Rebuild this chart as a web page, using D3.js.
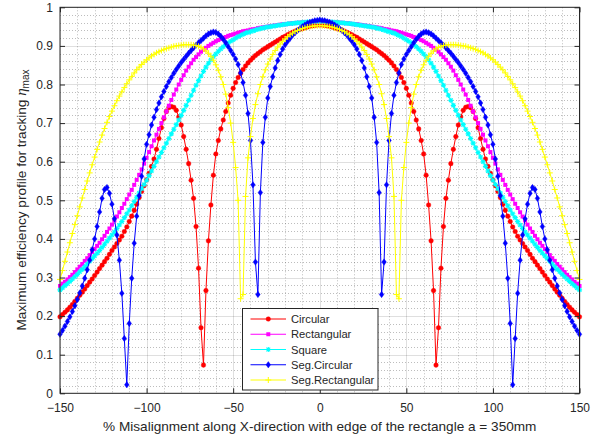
<!DOCTYPE html>
<html>
<head>
<meta charset="utf-8">
<script src="https://cdn.jsdelivr.net/npm/d3@7"></script>
<style>
	body { margin: 0; background: #fff; }
	text { font-family: 'Liberation Sans', Arial, Helvetica, sans-serif; }
</style>
</head>
<body>
<div id="chart"></div>
<script>
// misalignment sampled every 5 mm, shown in % of a = 350 mm
var xValues = d3.range(-525, 526, 5).map((mm) => mm / 3.5);

var seriesNames = [ 'Circular', 'Rectangular', 'Square', 'Seg.Circular', 'Seg.Rectangular' ];
var xTicks = [ -150, -100, -50, 0, 50, 100, 150 ];
var yTicks = [ 0, 0.1, 0.2, 0.3, 0.4, 0.5, 0.6, 0.7, 0.8, 0.9, 1 ];

var circular = [
	0.198,0.204,0.210,0.216,0.223,0.230,0.238,0.246,0.254,0.262,
	0.270,0.279,0.288,0.296,0.305,0.314,0.323,0.332,0.341,0.350,
	0.360,0.370,0.379,0.388,0.397,0.407,0.419,0.431,0.445,0.459,
	0.474,0.490,0.507,0.523,0.538,0.553,0.570,0.588,0.607,0.632,
	0.660,0.688,0.712,0.730,0.740,0.743,0.741,0.733,0.716,0.695,
	0.665,0.632,0.595,0.552,0.505,0.432,0.324,0.170,0.073,0.266,
	0.395,0.488,0.565,0.620,0.655,0.685,0.708,0.730,0.752,0.772,
	0.790,0.805,0.818,0.829,0.839,0.848,0.856,0.863,0.869,0.875,
	0.880,0.885,0.890,0.894,0.898,0.902,0.906,0.910,0.914,0.918,
	0.922,0.925,0.929,0.932,0.935,0.938,0.941,0.943,0.945,0.947,
	0.949,0.951,0.952,0.953,0.954,0.954,
	0.954,0.953,0.952,0.951,0.949,
	0.947,0.945,0.943,0.941,0.938,0.935,0.932,0.929,0.925,0.922,
	0.918,0.914,0.910,0.906,0.902,0.898,0.894,0.890,0.885,0.880,
	0.875,0.869,0.863,0.856,0.848,0.839,0.829,0.818,0.805,0.790,
	0.772,0.752,0.730,0.708,0.685,0.655,0.620,0.565,0.488,0.395,
	0.266,0.073,0.170,0.324,0.432,0.505,0.552,0.595,0.632,0.665,
	0.695,0.716,0.733,0.741,0.743,0.740,0.730,0.712,0.688,0.660,
	0.632,0.607,0.588,0.570,0.553,0.538,0.523,0.507,0.490,0.474,
	0.459,0.445,0.431,0.419,0.407,0.397,0.388,0.379,0.370,0.360,
	0.350,0.341,0.332,0.323,0.314,0.305,0.296,0.288,0.279,0.270,
	0.262,0.254,0.246,0.238,0.230,0.223,0.216,0.210,0.204,0.198
];

var rectangular = [
	0.278,0.284,0.289,0.295,0.301,0.307,0.314,0.321,0.328,0.335,
	0.343,0.350,0.358,0.366,0.374,0.382,0.390,0.399,0.408,0.418,
	0.427,0.437,0.448,0.458,0.469,0.480,0.491,0.503,0.515,0.527,
	0.540,0.553,0.566,0.580,0.595,0.610,0.625,0.640,0.655,0.670,
	0.685,0.700,0.715,0.730,0.745,0.760,0.774,0.787,0.800,0.812,
	0.824,0.836,0.846,0.855,0.864,0.871,0.878,0.885,0.890,0.895,
	0.900,0.904,0.908,0.912,0.915,0.918,0.921,0.923,0.926,0.928,
	0.930,0.932,0.934,0.936,0.938,0.939,0.940,0.942,0.943,0.944,
	0.946,0.947,0.948,0.949,0.950,0.951,0.952,0.953,0.954,0.955,
	0.956,0.956,0.957,0.958,0.959,0.959,0.960,0.960,0.961,0.962,
	0.962,0.962,0.963,0.963,0.963,0.963,
	0.963,0.963,0.963,0.962,0.962,
	0.962,0.961,0.960,0.960,0.959,0.959,0.958,0.957,0.956,0.956,
	0.955,0.954,0.953,0.952,0.951,0.950,0.949,0.948,0.947,0.946,
	0.944,0.943,0.942,0.940,0.939,0.938,0.936,0.934,0.932,0.930,
	0.928,0.926,0.923,0.921,0.918,0.915,0.912,0.908,0.904,0.900,
	0.895,0.890,0.885,0.878,0.871,0.864,0.855,0.846,0.836,0.824,
	0.812,0.800,0.787,0.774,0.760,0.745,0.730,0.715,0.700,0.685,
	0.670,0.655,0.640,0.625,0.610,0.595,0.580,0.566,0.553,0.540,
	0.527,0.515,0.503,0.491,0.480,0.469,0.458,0.448,0.437,0.427,
	0.418,0.408,0.399,0.390,0.382,0.374,0.366,0.358,0.350,0.343,
	0.335,0.328,0.321,0.314,0.307,0.301,0.295,0.289,0.284,0.278
];

var square = [
	0.268,0.273,0.279,0.284,0.290,0.296,0.302,0.308,0.315,0.321,
	0.328,0.335,0.342,0.349,0.356,0.363,0.370,0.378,0.386,0.394,
	0.402,0.410,0.418,0.427,0.436,0.445,0.455,0.465,0.475,0.486,
	0.497,0.508,0.519,0.530,0.541,0.552,0.564,0.576,0.588,0.600,
	0.612,0.624,0.636,0.648,0.660,0.672,0.684,0.696,0.708,0.720,
	0.733,0.746,0.759,0.772,0.785,0.798,0.810,0.822,0.834,0.845,
	0.855,0.864,0.872,0.879,0.886,0.892,0.898,0.903,0.908,0.912,
	0.916,0.920,0.924,0.927,0.930,0.933,0.935,0.937,0.939,0.941,
	0.943,0.945,0.946,0.948,0.949,0.950,0.951,0.952,0.953,0.954,
	0.955,0.956,0.957,0.958,0.958,0.959,0.960,0.960,0.961,0.961,
	0.962,0.962,0.962,0.963,0.963,0.963,
	0.963,0.963,0.962,0.962,0.962,
	0.961,0.961,0.960,0.960,0.959,0.958,0.958,0.957,0.956,0.955,
	0.954,0.953,0.952,0.951,0.950,0.949,0.948,0.946,0.945,0.943,
	0.941,0.939,0.937,0.935,0.933,0.930,0.927,0.924,0.920,0.916,
	0.912,0.908,0.903,0.898,0.892,0.886,0.879,0.872,0.864,0.855,
	0.845,0.834,0.822,0.810,0.798,0.785,0.772,0.759,0.746,0.733,
	0.720,0.708,0.696,0.684,0.672,0.660,0.648,0.636,0.624,0.612,
	0.600,0.588,0.576,0.564,0.552,0.541,0.530,0.519,0.508,0.497,
	0.486,0.475,0.465,0.455,0.445,0.436,0.427,0.418,0.410,0.402,
	0.394,0.386,0.378,0.370,0.363,0.356,0.349,0.342,0.335,0.328,
	0.321,0.315,0.308,0.302,0.296,0.290,0.284,0.279,0.273,0.268
];

var segCircular = [
	0.153,0.163,0.174,0.186,0.198,0.212,0.227,0.243,0.260,0.278,
	0.298,0.320,0.345,0.372,0.400,0.432,0.470,0.505,0.528,0.533,
	0.518,0.490,0.452,0.410,0.345,0.259,0.142,0.022,0.181,0.298,
	0.389,0.459,0.512,0.562,0.607,0.645,0.670,0.695,0.715,0.735,
	0.752,0.768,0.782,0.795,0.807,0.818,0.829,0.839,0.848,0.857,
	0.865,0.873,0.881,0.888,0.895,0.902,0.908,0.914,0.920,0.926,
	0.931,0.934,0.936,0.935,0.931,0.925,0.917,0.908,0.898,0.888,
	0.878,0.866,0.852,0.830,0.805,0.772,0.725,0.655,0.540,0.340,
	0.256,0.520,0.650,0.715,0.765,0.795,0.820,0.843,0.862,0.878,
	0.892,0.903,0.912,0.920,0.928,0.934,0.940,0.945,0.950,0.954,
	0.958,0.961,0.963,0.965,0.966,0.967,
	0.966,0.965,0.963,0.961,0.958,
	0.954,0.950,0.945,0.940,0.934,0.928,0.920,0.912,0.903,0.892,
	0.878,0.862,0.843,0.820,0.795,0.765,0.715,0.650,0.520,0.256,
	0.340,0.540,0.655,0.725,0.772,0.805,0.830,0.852,0.866,0.878,
	0.888,0.898,0.908,0.917,0.925,0.931,0.935,0.936,0.934,0.931,
	0.926,0.920,0.914,0.908,0.902,0.895,0.888,0.881,0.873,0.865,
	0.857,0.848,0.839,0.829,0.818,0.807,0.795,0.782,0.768,0.752,
	0.735,0.715,0.695,0.670,0.645,0.607,0.562,0.512,0.459,0.389,
	0.298,0.181,0.022,0.142,0.259,0.345,0.410,0.452,0.490,0.518,
	0.533,0.528,0.505,0.470,0.432,0.400,0.372,0.345,0.320,0.298,
	0.278,0.260,0.243,0.227,0.212,0.198,0.186,0.174,0.163,0.153
];

var segRectangular = [
	0.295,0.318,0.342,0.366,0.390,0.414,0.437,0.460,0.483,0.506,
	0.528,0.550,0.571,0.592,0.612,0.632,0.651,0.669,0.686,0.702,
	0.717,0.731,0.745,0.758,0.770,0.781,0.792,0.802,0.812,0.821,
	0.830,0.838,0.845,0.852,0.858,0.864,0.869,0.874,0.878,0.882,
	0.885,0.888,0.891,0.893,0.895,0.897,0.899,0.900,0.901,0.902,
	0.903,0.903,0.903,0.903,0.902,0.901,0.899,0.896,0.892,0.887,
	0.881,0.873,0.863,0.851,0.837,0.820,0.800,0.775,0.740,0.700,
	0.650,0.585,0.500,0.245,0.256,0.510,0.610,0.665,0.712,0.748,
	0.776,0.800,0.820,0.838,0.853,0.866,0.878,0.888,0.897,0.905,
	0.912,0.918,0.924,0.929,0.933,0.937,0.940,0.943,0.945,0.947,
	0.949,0.950,0.951,0.952,0.952,0.953,
	0.952,0.952,0.951,0.950,0.949,
	0.947,0.945,0.943,0.940,0.937,0.933,0.929,0.924,0.918,0.912,
	0.905,0.897,0.888,0.878,0.866,0.853,0.838,0.820,0.800,0.776,
	0.748,0.712,0.665,0.610,0.510,0.256,0.245,0.500,0.585,0.650,
	0.700,0.740,0.775,0.800,0.820,0.837,0.851,0.863,0.873,0.881,
	0.887,0.892,0.896,0.899,0.901,0.902,0.903,0.903,0.903,0.903,
	0.902,0.901,0.900,0.899,0.897,0.895,0.893,0.891,0.888,0.885,
	0.882,0.878,0.874,0.869,0.864,0.858,0.852,0.845,0.838,0.830,
	0.821,0.812,0.802,0.792,0.781,0.770,0.758,0.745,0.731,0.717,
	0.702,0.686,0.669,0.651,0.632,0.612,0.592,0.571,0.550,0.528,
	0.506,0.483,0.460,0.437,0.414,0.390,0.366,0.342,0.318,0.295
];

var seriesValues = [ circular, rectangular, square, segCircular, segRectangular ];
var seriesColors = [ '#ff0000', '#ff00ff', '#00ffff', '#0000ff', '#ffff00' ];

// marker shapes, drawn around (0,0)
var markers = [
	(g, c) => g.append('circle').attr('r', 2.3).attr('fill', c).attr('stroke', c).attr('stroke-width', 0.4),
	(g, c) => g.append('rect').attr('x', -2).attr('y', -2).attr('width', 4).attr('height', 4).attr('fill', c),
	(g, c) => g.append('path').attr('d', 'M-2.6,0H2.6M0,-2.6V2.6M-1.9,-1.9L1.9,1.9M-1.9,1.9L1.9,-1.9').attr('stroke', c).attr('stroke-width', 1.1).attr('fill', 'none'),
	(g, c) => g.append('path').attr('d', 'M0,-3.2L2.3,0L0,3.2L-2.3,0Z').attr('fill', c).attr('stroke', c).attr('stroke-width', 0.4),
	(g, c) => g.append('path').attr('d', 'M-3,0H3M0,-3V3').attr('stroke', c).attr('stroke-width', 1).attr('fill', 'none')
];

var width = 601;
var height = 437;
var plot = { left: 60, right: 579.5, top: 7.3, bottom: 393.3 };
var axisColor = '#262626';

var svg = d3.select('#chart').append('svg').attr('width', width).attr('height', height);

var x = d3.scaleLinear().domain([ -150, 150 ]).range([ plot.left, plot.right ]);
var y = d3.scaleLinear().domain([ 0, 1 ]).range([ plot.bottom, plot.top ]);

// minor grid (dotted)
var xMinor = d3.range(-150, 151, 10).filter((d) => d % 50 !== 0);
var yMinor = d3.range(0, 51).filter((i) => i % 5 !== 0).map((i) => i / 50);
var grid = svg.append('g');
grid.selectAll('line.xminor').data(xMinor).enter().append('line')
	.attr('x1', (d) => Math.round(x(d)) + 0.5).attr('x2', (d) => Math.round(x(d)) + 0.5)
	.attr('y1', plot.top).attr('y2', plot.bottom)
	.attr('stroke', axisColor).attr('stroke-opacity', 0.3).attr('stroke-dasharray', '1,2');
grid.selectAll('line.yminor').data(yMinor).enter().append('line')
	.attr('y1', (d) => Math.round(y(d)) + 0.5).attr('y2', (d) => Math.round(y(d)) + 0.5)
	.attr('x1', plot.left).attr('x2', plot.right)
	.attr('stroke', axisColor).attr('stroke-opacity', 0.3).attr('stroke-dasharray', '1,2');

// major grid
grid.selectAll('line.xmajor').data(xTicks).enter().append('line')
	.attr('x1', (d) => Math.round(x(d)) + 0.5).attr('x2', (d) => Math.round(x(d)) + 0.5)
	.attr('y1', plot.top).attr('y2', plot.bottom)
	.attr('stroke', axisColor).attr('stroke-opacity', 0.15);
grid.selectAll('line.ymajor').data(yTicks).enter().append('line')
	.attr('y1', (d) => Math.round(y(d)) + 0.5).attr('y2', (d) => Math.round(y(d)) + 0.5)
	.attr('x1', plot.left).attr('x2', plot.right)
	.attr('stroke', axisColor).attr('stroke-opacity', 0.15);

// series
var line = d3.line().x((d, i) => x(xValues[i])).y((d) => y(d));

seriesValues.forEach((vals, s) => {
	var g = svg.append('g');
	g.append('path').datum(vals)
		.attr('d', line)
		.attr('fill', 'none')
		.attr('stroke', seriesColors[s])
		.attr('stroke-width', 1);
	g.selectAll('g.m').data(vals).enter().append('g')
		.attr('transform', (d, i) => `translate(${x(xValues[i])},${y(d)})`)
		.each(function() { markers[s](d3.select(this), seriesColors[s]); });
});

// axes
var fmt = (d) => d3.format('')(d);
svg.append('g')
	.attr('transform', `translate(0,${plot.bottom})`)
	.call(d3.axisBottom(x).tickValues(xTicks).tickSize(-5).tickPadding(10).tickFormat(fmt))
	.call((g) => g.select('.domain').remove());
svg.append('g')
	.attr('transform', `translate(0,${plot.top})`)
	.call(d3.axisTop(x).tickValues(xTicks).tickSize(-5).tickFormat(''))
	.call((g) => g.select('.domain').remove());
svg.append('g')
	.attr('transform', `translate(${plot.left},0)`)
	.call(d3.axisLeft(y).tickValues(yTicks).tickSize(-5).tickPadding(7).tickFormat(fmt))
	.call((g) => g.select('.domain').remove());
svg.append('g')
	.attr('transform', `translate(${plot.right},0)`)
	.call(d3.axisRight(y).tickValues(yTicks).tickSize(-5).tickFormat(''))
	.call((g) => g.select('.domain').remove());

svg.selectAll('.tick line').attr('stroke', axisColor);
svg.selectAll('.tick text').attr('fill', axisColor).style('font-size', '12px');

svg.append('rect')
	.attr('x', plot.left).attr('y', plot.top)
	.attr('width', plot.right - plot.left).attr('height', plot.bottom - plot.top)
	.attr('fill', 'none').attr('stroke', axisColor).attr('stroke-width', 1);

// axis titles
svg.append('text')
	.attr('x', (plot.left + plot.right) / 2).attr('y', 431)
	.attr('text-anchor', 'middle').attr('fill', axisColor).style('font-size', '13.6px')
	.text('% Misalignment along X-direction with edge of the rectangle a = 350mm');

var yTitle = svg.append('text')
	.attr('transform', 'translate(26,200) rotate(-90)')
	.attr('text-anchor', 'middle').attr('fill', axisColor).style('font-size', '13.6px');
yTitle.append('tspan').text('Maximum efficiency profile for tracking ');
yTitle.append('tspan').style('font-family', "'Liberation Serif', serif").style('font-style', 'italic').style('font-size', '15px').text('η');
yTitle.append('tspan').attr('dy', 3).style('font-size', '10px').text('max');

// legend
var legend = svg.append('g');
legend.append('rect')
	.attr('x', 242.5).attr('y', 308.5).attr('width', 135.5).attr('height', 81.5)
	.attr('fill', '#fff').attr('stroke', axisColor).attr('stroke-width', 1);
seriesNames.forEach((name, s) => {
	var ly = 319 + s * 15.25;
	legend.append('line')
		.attr('x1', 250.5).attr('x2', 286).attr('y1', ly).attr('y2', ly)
		.attr('stroke', seriesColors[s]).attr('stroke-width', 1);
	markers[s](legend.append('g').attr('transform', `translate(268.3,${ly})`), seriesColors[s]);
	legend.append('text')
		.attr('x', 291).attr('y', ly + 4)
		.attr('fill', axisColor).style('font-size', '11.2px')
		.text(name);
});
</script>
</body>
</html>
